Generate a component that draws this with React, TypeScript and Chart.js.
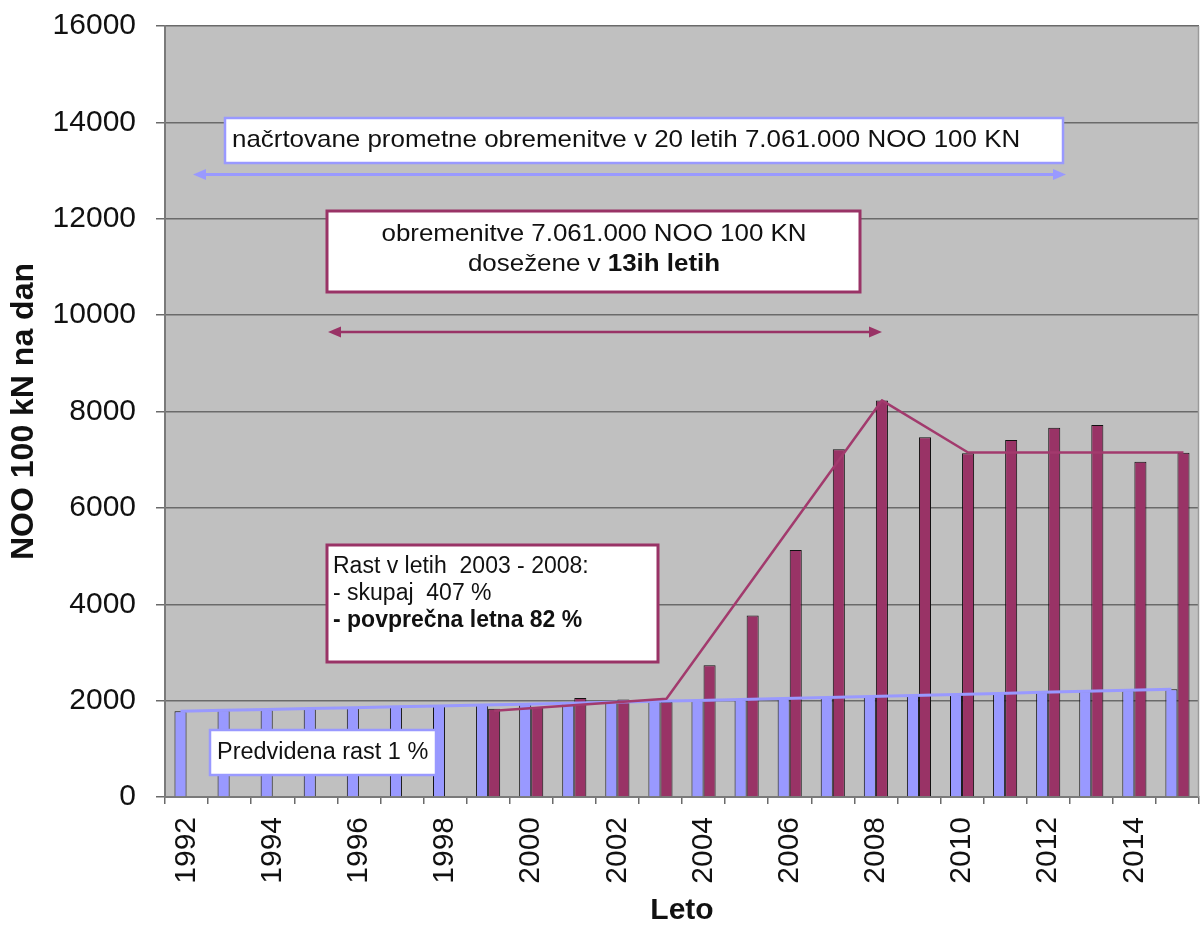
import { useEffect, useRef } from 'react';
import { Chart, registerables } from 'chart.js';

Chart.register(...registerables);

const FONT = "'Liberation Sans', Arial, Helvetica, sans-serif";

// Years on the category axis
const years = [
  '1992', '1993', '1994', '1995', '1996', '1997', '1998', '1999',
  '2000', '2001', '2002', '2003', '2004', '2005', '2006', '2007',
  '2008', '2009', '2010', '2011', '2012', '2013', '2014', '2015',
];

// Forecast traffic load with 1 % yearly growth (NOO 100 kN per day)
const predicted = [
  1780, 1798, 1816, 1834, 1852, 1871, 1889, 1908,
  1927, 1946, 1966, 1986, 2005, 2025, 2046, 2066,
  2087, 2108, 2129, 2150, 2172, 2193, 2215, 2237,
];

// Measured traffic load (counts start in 1999)
const actual = [
  null, null, null, null, null, null, null, 1830,
  1870, 2055, 2022, 1975, 2735, 3768, 5125, 7215,
  8228, 7465, 7132, 7410, 7665, 7720, 6958, 7145,
];

// Hand-drawn trend of the measured load: 1999, 2003, 2008 peak, 2010 and a flat level to 2015
const actualTrend = [
  null, null, null, null, null, null, null, 1790,
  null, null, null, 2040, null, null, null, null,
  8230, null, 7150, null, null, null, null, 7150,
];

const yMin = 0;
const yMax = 16000;
const yStep = 2000;

const BLUE = '#9999FF';
const MAROON = '#993366';
const GRID = '#6a6a6a';

const PREDICTED_INDEX = 0;
const ACTUAL_INDEX = 1;

type Run = { text: string; bold?: boolean };

function drawRuns(
  ctx: CanvasRenderingContext2D,
  runs: Run[],
  x: number,
  y: number,
  size: number,
  sx: number,
  align: 'left' | 'center'
) {
  ctx.save();
  const widths = runs.map((r) => {
    ctx.font = `${r.bold ? 'bold ' : ''}${size}px ${FONT}`;
    return ctx.measureText(r.text).width;
  });
  const total = widths.reduce((a, b) => a + b, 0) * sx;
  const startX = align === 'center' ? x - total / 2 : x;
  ctx.translate(startX, y);
  ctx.scale(sx, 1);
  ctx.fillStyle = '#111';
  ctx.textBaseline = 'alphabetic';
  ctx.textAlign = 'left';
  let off = 0;
  runs.forEach((r, i) => {
    ctx.font = `${r.bold ? 'bold ' : ''}${size}px ${FONT}`;
    ctx.fillText(r.text, off, 0);
    off += widths[i];
  });
  ctx.restore();
}

function drawBox(
  ctx: CanvasRenderingContext2D,
  x1: number,
  y1: number,
  x2: number,
  y2: number,
  border: string,
  lw: number
) {
  ctx.save();
  ctx.fillStyle = '#ffffff';
  ctx.fillRect(x1, y1, x2 - x1, y2 - y1);
  ctx.strokeStyle = border;
  ctx.lineWidth = lw;
  ctx.strokeRect(x1, y1, x2 - x1, y2 - y1);
  ctx.restore();
}

function drawDoubleArrow(
  ctx: CanvasRenderingContext2D,
  x1: number,
  x2: number,
  y: number,
  color: string,
  lw: number
) {
  const len = 13;
  const half = 5.5;
  ctx.save();
  ctx.strokeStyle = color;
  ctx.fillStyle = color;
  ctx.lineWidth = lw;
  ctx.beginPath();
  ctx.moveTo(x1 + len - 2, y);
  ctx.lineTo(x2 - len + 2, y);
  ctx.stroke();
  ctx.beginPath();
  ctx.moveTo(x1, y);
  ctx.lineTo(x1 + len, y - half);
  ctx.lineTo(x1 + len, y + half);
  ctx.closePath();
  ctx.fill();
  ctx.beginPath();
  ctx.moveTo(x2, y);
  ctx.lineTo(x2 - len, y - half);
  ctx.lineTo(x2 - len, y + half);
  ctx.closePath();
  ctx.fill();
  ctx.restore();
}

const plotBackground = {
  id: 'plotBackground',
  beforeDraw(chart: Chart) {
    const { ctx, chartArea } = chart;
    ctx.save();
    ctx.fillStyle = '#ffffff';
    ctx.fillRect(0, 0, chart.width, chart.height);
    ctx.fillStyle = '#C0C0C0';
    ctx.fillRect(chartArea.left, chartArea.top, chartArea.right - chartArea.left, chartArea.bottom - chartArea.top);
    ctx.restore();
  },
  beforeDatasetsDraw(chart: Chart) {
    const { ctx, chartArea } = chart;
    ctx.save();
    ctx.strokeStyle = '#9a9a9a';
    ctx.lineWidth = 1.5;
    ctx.beginPath();
    ctx.moveTo(chartArea.right - 0.5, chartArea.top);
    ctx.lineTo(chartArea.right - 0.5, chartArea.bottom);
    ctx.stroke();
    ctx.restore();
  },
};

// Trend lines run through the centres of the matching bars, heights from the y scale.
function strokeTrend(chart: Chart, datasetIndex: number, values: (number | null)[], color: string, lw: number) {
  const { ctx } = chart;
  const yScale = chart.scales.y;
  const bars = chart.getDatasetMeta(datasetIndex).data as any[];
  ctx.save();
  ctx.strokeStyle = color;
  ctx.lineWidth = lw;
  ctx.lineJoin = 'round';
  ctx.beginPath();
  let started = false;
  values.forEach((v, i) => {
    if (v == null || !bars[i]) return;
    const px = bars[i].x;
    const py = yScale.getPixelForValue(v);
    if (!started) {
      ctx.moveTo(px, py);
      started = true;
    } else {
      ctx.lineTo(px, py);
    }
  });
  ctx.stroke();
  ctx.restore();
}

const trendLines = {
  id: 'trendLines',
  afterDatasetsDraw(chart: Chart) {
    strokeTrend(chart, PREDICTED_INDEX, predicted, BLUE, 3);
    strokeTrend(chart, ACTUAL_INDEX, actualTrend, '#A23A6D', 2.5);
  },
};

const notes = {
  id: 'notes',
  afterDatasetsDraw(chart: Chart) {
    const { ctx } = chart;

    // planned load over 20 years
    drawBox(ctx, 225, 118, 1063, 163, BLUE, 2.5);
    drawRuns(ctx, [{ text: 'načrtovane prometne obremenitve v 20 letih 7.061.000 NOO 100 KN' }], 232, 147, 24, 1.08, 'left');
    drawDoubleArrow(ctx, 193, 1066, 174.5, BLUE, 3);

    // load reached in 13 years
    drawBox(ctx, 327, 211, 860, 292, MAROON, 3);
    drawRuns(ctx, [{ text: 'obremenitve 7.061.000 NOO 100 KN' }], 594, 241, 24, 1.08, 'center');
    drawRuns(ctx, [{ text: 'dosežene v ' }, { text: '13ih letih', bold: true }], 594, 271, 24, 1.08, 'center');
    drawDoubleArrow(ctx, 328, 882, 332, MAROON, 2.5);

    // growth 2003 - 2008
    drawBox(ctx, 327, 545, 658, 662, MAROON, 3);
    drawRuns(ctx, [{ text: 'Rast v letih  2003 - 2008:' }], 333, 573, 23, 1.0, 'left');
    drawRuns(ctx, [{ text: '- skupaj  407 %' }], 333, 600, 23, 1.0, 'left');
    drawRuns(ctx, [{ text: '- povprečna letna 82 %', bold: true }], 333, 627, 23, 1.0, 'left');

    // forecast growth
    drawBox(ctx, 210, 730, 436, 775, BLUE, 2.5);
    drawRuns(ctx, [{ text: 'Predvidena rast 1 %' }], 217, 759, 23, 1.02, 'left');
  },
};

export default function App() {
  const canvasRef = useRef<HTMLCanvasElement | null>(null);

  useEffect(() => {
    const canvas = canvasRef.current;
    if (!canvas) return;

    const chart = new Chart(canvas, {
      type: 'bar',
      data: {
        labels: years,
        datasets: [
          {
            label: 'Predvidena rast 1 %',
            data: predicted,
            backgroundColor: BLUE,
            borderColor: '#111',
            borderWidth: 1,
            categoryPercentage: 0.56,
            barPercentage: 1,
          },
          {
            label: 'NOO 100 kN na dan',
            data: actual,
            backgroundColor: MAROON,
            borderColor: '#111',
            borderWidth: 1,
            categoryPercentage: 0.56,
            barPercentage: 1,
          },
        ],
      },
      options: {
        responsive: true,
        maintainAspectRatio: false,
        animation: false,
        events: [],
        layout: { padding: { top: 26, right: 4, left: 0, bottom: 0 } },
        plugins: {
          legend: { display: false },
          tooltip: { enabled: false },
        },
        scales: {
          x: {
            type: 'category',
            offset: true,
            grid: {
              offset: true,
              drawOnChartArea: false,
              drawTicks: true,
              tickLength: 7,
              color: GRID,
              lineWidth: 1.5,
            },
            border: { color: '#7a7a7a', width: 2 },
            ticks: {
              autoSkip: false,
              maxRotation: 90,
              minRotation: 90,
              padding: 13,
              color: '#111',
              font: { size: 30, family: FONT },
              callback: (_v: any, i: number) => (i % 2 === 0 ? years[i] : ''),
            },
            title: {
              display: true,
              text: 'Leto',
              color: '#111',
              font: { size: 30, weight: 'bold', family: FONT, lineHeight: 1 },
              padding: { top: 0, bottom: 0 },
            },
            afterFit: (s: any) => {
              s.height = 129;
              s.paddingLeft = 0;
              s.paddingRight = 0;
            },
          },
          y: {
            type: 'linear',
            position: 'left',
            min: yMin,
            max: yMax,
            grid: {
              color: GRID,
              lineWidth: 1.5,
              tickLength: 9,
              tickColor: GRID,
            },
            border: { color: '#7a7a7a', width: 2 },
            ticks: {
              stepSize: yStep,
              padding: 20,
              color: '#111',
              font: { size: 30, family: FONT },
              callback: (v: any) => String(v),
            },
            title: {
              display: true,
              text: 'NOO 100 kN na dan',
              color: '#111',
              font: { size: 32, weight: 'bold', family: FONT, lineHeight: 1 },
              padding: { top: 8, bottom: 0 },
            },
            afterFit: (s: any) => {
              s.width = 165;
              s.paddingTop = 0;
              s.paddingBottom = 0;
            },
          },
        },
      },
      plugins: [plotBackground, trendLines, notes],
    } as any);

    return () => {
      chart.destroy();
    };
  }, []);

  return (
    <div style={{ position: 'absolute', left: 0, top: 0, width: 1203, height: 926, background: '#fff' }}>
      <canvas ref={canvasRef} style={{ display: 'block' }} />
    </div>
  );
}
